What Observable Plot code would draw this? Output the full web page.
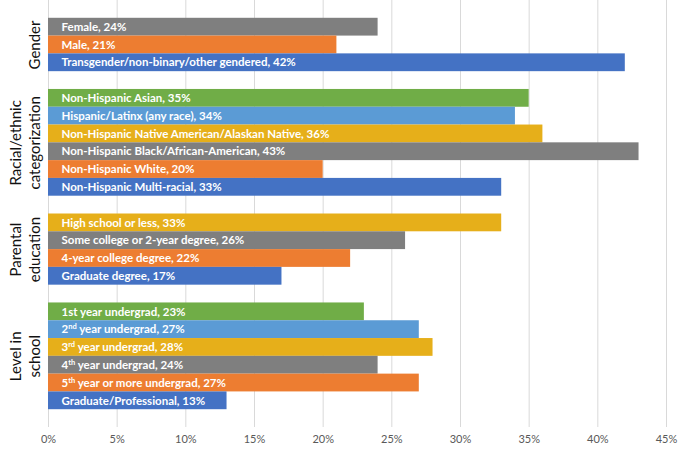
<!DOCTYPE html>
<html>
<head>
<meta charset="utf-8">
<script src="https://cdn.jsdelivr.net/npm/d3@7"></script>
<script src="https://cdn.jsdelivr.net/npm/@observablehq/plot@0.6"></script>
<style>
  html, body { margin: 0; padding: 0; background: #fff; }
  #chart svg { display: block; }
</style>
</head>
<body>
<div id="chart"></div>
<script>
// ---- Data ----
const groupNames = ["Gender", "Racial/ethnic\ncategorization", "Parental\neducation", "Level in\nschool"];

const genderLabels = ["Female", "Male", "Transgender/non-binary/other gendered"];
const genderValues = [24, 21, 42];

const raceLabels = ["Non-Hispanic Asian", "Hispanic/Latinx (any race)", "Non-Hispanic Native American/Alaskan Native",
  "Non-Hispanic Black/African-American", "Non-Hispanic White", "Non-Hispanic Multi-racial"];
const raceValues = [35, 34, 36, 43, 20, 33];

const parentLabels = ["High school or less", "Some college or 2-year degree", "4-year college degree", "Graduate degree"];
const parentValues = [33, 26, 22, 17];

const levelLabels = ["1st year undergrad", "2nd year undergrad", "3rd year undergrad", "4th year undergrad",
  "5th year or more undergrad", "Graduate/Professional"];
const levelValues = [23, 27, 28, 24, 27, 13];

const xTicks = [0, 5, 10, 15, 20, 25, 30, 35, 40, 45];

// ---- Build table ----
// Excel series colours: series 1 (bottom row of each group) blue, then orange, grey, gold, light blue, green
const seriesPalette = ["#4472C4", "#ED7D31", "#7F7F7F", "#E6AF1A", "#5B9BD5", "#70AD47"];
const groupsData = [
  [genderLabels, genderValues],
  [raceLabels, raceValues],
  [parentLabels, parentValues],
  [levelLabels, levelValues]
];
const rows = [];
const groupRows = [];
let slot = 1; // one empty slot at top
groupsData.forEach(([labels, values], g) => {
  const start = slot;
  labels.forEach((lab, i) => {
    rows.push({
      label: lab,
      value: values[i],
      text: `${lab}, ${values[i]}%`,
      series: labels.length - 1 - i,
      y1: slot,
      y2: slot + 1
    });
    slot++;
  });
  groupRows.push({name: groupNames[g], center: (start + slot) / 2});
  slot++; // empty slot between groups
});
const totalSlots = slot;

const font = "Lato, 'Open Sans', sans-serif";

const chart = Plot.plot({
  width: 691,
  height: 452,
  marginLeft: 48,
  marginRight: 25,
  marginTop: 0,
  marginBottom: 25,
  style: {fontFamily: font, background: "#fff", overflow: "visible"},
  x: {domain: [0, 45], ticks: xTicks, tickFormat: d => d + "%"},
  y: {domain: [0, totalSlots], reverse: true, axis: null},
  marks: [
    Plot.gridX(xTicks, {stroke: "#d9d9d9", strokeOpacity: 1, strokeWidth: 1}),
    Plot.axisX({ticks: xTicks, tickFormat: d => d + "%", tickSize: 0, tickPadding: 8, fontSize: 11, color: "#595959", label: null}),
    Plot.rectX(rows, {x1: 0, x2: "value", y1: "y1", y2: "y2", fill: d => seriesPalette[d.series]}),
    Plot.text(rows, {
      x: 0, y: d => (d.y1 + d.y2) / 2, text: "text", dx: 13,
      textAnchor: "start", fill: "white", fontWeight: "bold", fontSize: 11.5
    }),
    Plot.text(groupRows, {
      x: 0, y: "center", text: "name", dx: -9, rotate: -90,
      textAnchor: "middle", lineAnchor: "bottom", lineHeight: 1.25,
      fontSize: 15, fill: "#111"
    })
  ]
});

// superscript ordinal suffixes (2nd, 3rd, 4th, 5th)
d3.select(chart).selectAll("text").each(function () {
  const t = this.textContent;
  const m = /^([2-9])(nd|rd|th)( .*)$/.exec(t);
  if (!m || this.querySelector("tspan")) return;
  this.textContent = "";
  const ns = "http://www.w3.org/2000/svg";
  const a = document.createElementNS(ns, "tspan"); a.textContent = m[1];
  const b = document.createElementNS(ns, "tspan"); b.textContent = m[2];
  b.setAttribute("dy", "-4"); b.setAttribute("font-size", "7.5");
  const c = document.createElementNS(ns, "tspan"); c.textContent = m[3];
  c.setAttribute("dy", "4");
  this.append(a, b, c);
});

document.getElementById("chart").append(chart);
</script>
</body>
</html>
